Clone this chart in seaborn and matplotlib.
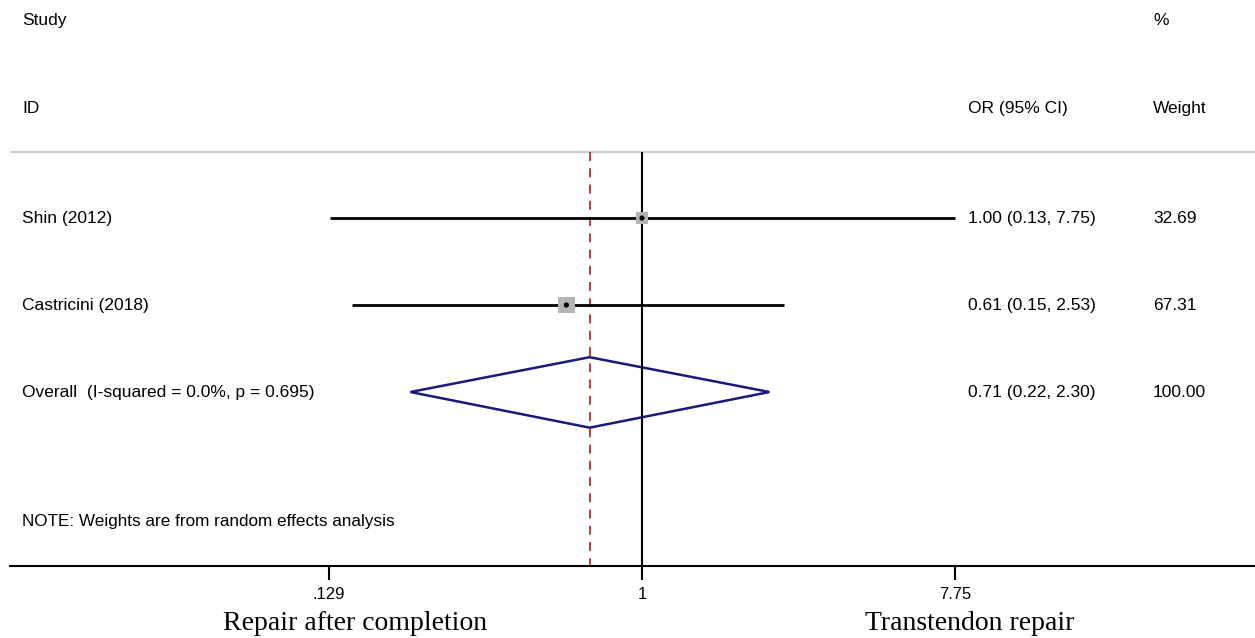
import numpy as np
import pandas as pd
import matplotlib
matplotlib.use("Agg")
import matplotlib.pyplot as plt
import seaborn as sns

# data
studies = ["Shin (2012)", "Castricini (2018)"]
odds = [1.00, 0.61]
lower = [0.13, 0.15]
upper = [7.75, 2.53]
weights = [32.69, 67.31]
pooled_or = 0.71
pooled_lo = 0.22
pooled_hi = 2.30
overall_label = "Overall  (I-squared = 0.0%, p = 0.695)"
ci_text = ["1.00 (0.13, 7.75)", "0.61 (0.15, 2.53)", "0.71 (0.22, 2.30)"]
wt_text = ["32.69", "67.31", "100.00"]
tick_vals = [0.129, 1, 7.75]
tick_labels = [".129", "1", "7.75"]

sns.set_style("white")
plt.rcParams['font.family'] = ['Liberation Sans', 'DejaVu Sans']
plt.rcParams['text.color'] = 'black'
plt.rcParams['xtick.color'] = 'black'

fig = plt.figure(figsize=(12.55, 6.38), dpi=100)
# axes spans from the axis line (566px) up to the top, from x=10px to the right edge
ax = fig.add_axes([10/1255, (638-566)/638, 1245/1255, 566/638])
ax.set_xscale("log")
pxu = 153.0  # pixels per ln unit
ax.set_xlim(np.exp((10-642)/pxu), np.exp((1255-642)/pxu))
ax.set_ylim(4.0, -2.506)

df = pd.DataFrame({"study": studies, "OR": odds, "lo": lower, "hi": upper,
                   "w": weights, "row": np.arange(len(studies))})

# header separator
ax.axhline(-0.759, color="#c8c8c8", lw=1.5)
# no-effect line and pooled line
ax.vlines(1, -0.759, 4.0, color="black", lw=1.5)
ax.vlines(pooled_or, -0.759, 4.0, color="#b03030", lw=1.3, linestyles=(0, (5, 4)))

# confidence intervals
ax.hlines(df["row"], df["lo"], df["hi"], color="black", lw=2)
# weight boxes
sns.scatterplot(data=df, x="OR", y="row", size="w", sizes=(70, 140), marker="s",
                color="#b4b4b4", edgecolor="none", legend=False, ax=ax, zorder=3)
sns.scatterplot(data=df, x="OR", y="row", color="black", s=14, edgecolor="none",
                legend=False, ax=ax, zorder=4)

# pooled diamond
r = 2
ax.fill([pooled_lo, pooled_or, pooled_hi, pooled_or, pooled_lo],
        [r, r - 0.40, r, r + 0.41, r], facecolor="none", edgecolor="#1a1a7a", lw=1.8)

# text columns
fs = 12.5
tx = ax.get_yaxis_transform()
fx = lambda px: (px - 10) / 1245
ax.text(fx(22), -2.276, "Study", transform=tx, fontsize=fs, va="center")
ax.text(fx(22), -1.264, "ID", transform=tx, fontsize=fs, va="center")
ax.text(fx(968), -1.264, "OR (95% CI)", transform=tx, fontsize=fs, va="center")
ax.text(fx(1153), -2.276, "%", transform=tx, fontsize=fs, va="center")
ax.text(fx(1153), -1.264, "Weight", transform=tx, fontsize=fs, va="center")
labels = studies + [overall_label]
for i, lab in enumerate(labels):
    ax.text(fx(22), i, lab, transform=tx, fontsize=fs, va="center")
    ax.text(fx(968), i, ci_text[i], transform=tx, fontsize=fs, va="center")
    ax.text(fx(1153), i, wt_text[i], transform=tx, fontsize=fs, va="center")
ax.text(fx(22), 3.494, "NOTE: Weights are from random effects analysis",
        transform=tx, fontsize=12.3, va="center")

# axis styling
for s in ["top", "right", "left"]:
    ax.spines[s].set_visible(False)
ax.spines["bottom"].set_color("black")
ax.spines["bottom"].set_linewidth(1.5)
ax.set_xlabel("")
ax.set_ylabel("")
ax.set_yticks([])
ax.set_xticks(tick_vals)
ax.set_xticklabels(tick_labels)
ax.xaxis.set_minor_locator(matplotlib.ticker.NullLocator())
ax.tick_params(axis="x", direction="out", length=10, width=1.5, color="black",
               labelcolor="black", labelsize=12, pad=5, bottom=True)

fig.text(355/1255, 1 - 623/638, "Repair after completion", ha="center", va="center",
         fontsize=20, family="Liberation Serif", color="black")
fig.text(970/1255, 1 - 623/638, "Transtendon repair", ha="center", va="center",
         fontsize=20, family="Liberation Serif", color="black")

fig.savefig("out.png", dpi=100)
